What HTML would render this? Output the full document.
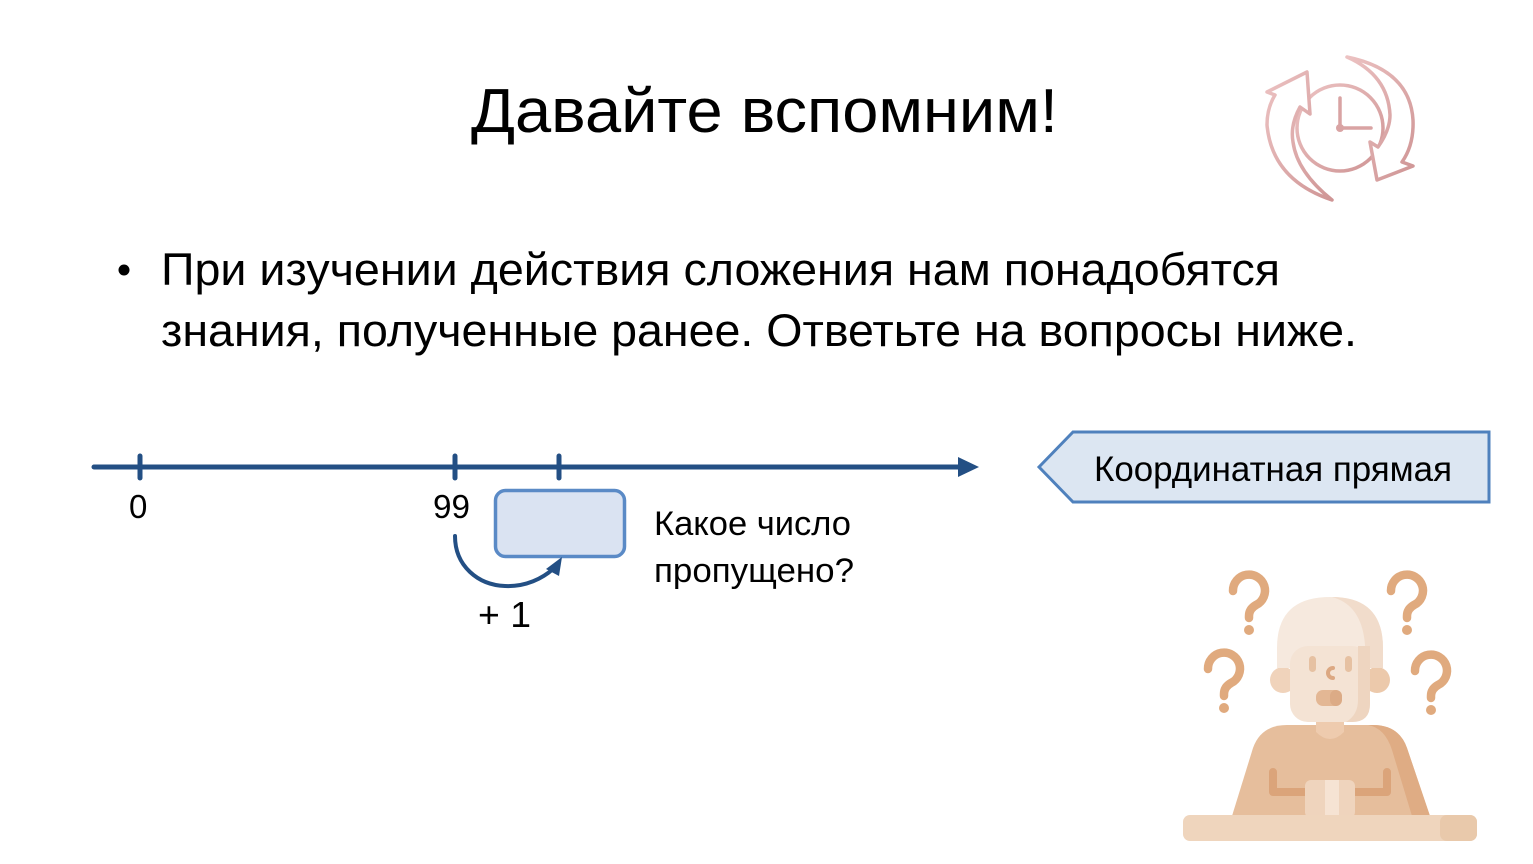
<!DOCTYPE html>
<html>
<head>
<meta charset="utf-8">
<style>
  html,body{margin:0;padding:0;background:#ffffff;}
  body{width:1533px;height:864px;overflow:hidden;}
  svg{display:block;}
  text{font-family:"Liberation Sans","DejaVu Sans",sans-serif;fill:#000;}
</style>
</head>
<body>
<svg width="1533" height="864" viewBox="0 0 1533 864" xmlns="http://www.w3.org/2000/svg">
  <defs>
    <linearGradient id="pg" x1="0" y1="0" x2="1" y2="1">
      <stop offset="0" stop-color="#ecc2c2"/>
      <stop offset="1" stop-color="#cf9595"/>
    </linearGradient>
  </defs>

  <!-- Title -->
  <text x="471" y="132" font-size="62" textLength="587" lengthAdjust="spacingAndGlyphs">Давайте вспомним!</text>

  <!-- Bullet text -->
  <circle cx="124" cy="270" r="5.5" fill="#000"/>
  <text x="161" y="285" font-size="45" textLength="1119" lengthAdjust="spacingAndGlyphs">При изучении действия сложения нам понадобятся</text>
  <text x="161" y="346" font-size="45" textLength="1196" lengthAdjust="spacingAndGlyphs">знания, полученные ранее. Ответьте на вопросы ниже.</text>

  <!-- Clock icon -->
  <g fill="none" stroke="url(#pg)" stroke-width="3.5" stroke-linejoin="round" stroke-linecap="round">
    <circle cx="1340" cy="128" r="43"/>
    <!-- left arrow -->
    <path d="M1332,200 Q1272,180 1267,125 Q1267,108 1275,95 L1267,92 L1307,72 L1310,114 L1300,107 Q1290,125 1293,142 Q1297,172 1332,200 Z" fill="#fff"/>
    <!-- right arrow -->
    <path d="M1347,57 Q1410,70 1413,120 Q1414,145 1402,162 L1413,166 L1377,180 L1370,142 L1378,147 Q1390,130 1390,115 Q1388,75 1347,57 Z" fill="#fff"/>
  </g>
  <g stroke="#d9a3a3" stroke-width="3.5" stroke-linecap="round">
    <line x1="1340" y1="98" x2="1340" y2="128"/>
    <line x1="1340" y1="128" x2="1371" y2="128"/>
  </g>
  <circle cx="1340" cy="128" r="4" fill="#d9a4a4"/>

  <!-- Number line -->
  <g stroke="#234f84" stroke-width="5" stroke-linecap="round">
    <line x1="94" y1="467" x2="962" y2="467"/>
    <line x1="140" y1="456" x2="140" y2="478"/>
    <line x1="455" y1="456" x2="455" y2="478"/>
    <line x1="559" y1="456" x2="559" y2="478"/>
  </g>
  <polygon points="958,457 979,467 958,477" fill="#234f84"/>

  <text x="129" y="518" font-size="33">0</text>
  <text x="433" y="518" font-size="33" textLength="37" lengthAdjust="spacingAndGlyphs">99</text>

  <!-- Empty box -->
  <rect x="495.5" y="490.5" width="129" height="66" rx="10" fill="#dae3f2" stroke="#5a8ac6" stroke-width="3.5"/>

  <!-- Curved arrow -->
  <path d="M455,536 C455,566 478,585 505,586 C526,587 543,578 553,569" fill="none" stroke="#234f84" stroke-width="4" stroke-linecap="round"/>
  <polygon points="562,557 546,569 559,576" fill="#234f84"/>

  <text x="478" y="627" font-size="36" textLength="53" lengthAdjust="spacingAndGlyphs">+ 1</text>

  <text x="654" y="535" font-size="34" textLength="197" lengthAdjust="spacingAndGlyphs">Какое число</text>
  <text x="654" y="582" font-size="34" textLength="200" lengthAdjust="spacingAndGlyphs">пропущено?</text>

  <!-- Label pentagon -->
  <polygon points="1039,467 1073,432 1489,432 1489,502 1073,502" fill="#dce6f2" stroke="#4f81bd" stroke-width="3"/>
  <text x="1094" y="481" font-size="35" textLength="358" lengthAdjust="spacingAndGlyphs">Координатная прямая</text>

  <!-- Person icon -->
  <g>
    <!-- question marks -->
    <g fill="none" stroke="#e0aa7e" stroke-width="8.5" stroke-linecap="round" stroke-linejoin="round">
      <path d="M1233,591 A16,16 0 1 1 1256,605 Q1249,609 1249,616 L1249,618"/>
      <path d="M1391,591 A16,16 0 1 1 1414,605 Q1407,609 1407,616 L1407,618"/>
      <path d="M1208,669 A16,16 0 1 1 1231,683 Q1224,687 1224,694 L1224,696"/>
      <path d="M1415,671 A16,16 0 1 1 1438,685 Q1431,689 1431,696 L1431,698"/>
    </g>
    <g fill="#e0aa7e">
      <circle cx="1249" cy="630" r="5"/>
      <circle cx="1407" cy="630" r="5"/>
      <circle cx="1224" cy="708" r="5"/>
      <circle cx="1431" cy="710" r="5"/>
    </g>

    <!-- body -->
    <path d="M1232,816 L1253,748 Q1261,725 1287,725 L1373,725 Q1399,725 1407,748 L1430,816 Z" fill="#e6be9c"/>
    <path d="M1368,725 L1373,725 Q1399,725 1407,748 L1430,816 L1412,816 L1392,750 Q1385,728 1368,725 Z" fill="#dfac84"/>
    <!-- neck -->
    <path d="M1316,712 L1344,712 L1344,732 Q1330,746 1316,732 Z" fill="#eecbae"/>
    <!-- arms -->
    <g fill="none" stroke="#dba47a" stroke-width="8" stroke-linecap="round" stroke-linejoin="round">
      <polyline points="1273,772 1273,792 1308,792"/>
      <polyline points="1387,772 1387,792 1352,792"/>
    </g>
    <!-- hands -->
    <rect x="1305" y="780" width="50" height="38" rx="6" fill="#efd4bd"/>
    <rect x="1325" y="780" width="14" height="38" fill="#f6e3d3"/>
    <!-- desk -->
    <rect x="1183" y="815" width="294" height="26" rx="7" fill="#efd5bd"/>
    <rect x="1440" y="815" width="37" height="26" rx="7" fill="#e9c9ab"/>

    <!-- ears -->
    <circle cx="1283" cy="680" r="13" fill="#f0d3bb"/>
    <circle cx="1377" cy="680" r="13" fill="#ecc9ab"/>
    <!-- skull -->
    <path d="M1277,668 L1277,648 Q1277,597 1330,597 Q1383,597 1383,648 L1383,668 Z" fill="#f6e9de"/>
    <path d="M1332,597 Q1383,597 1383,648 L1383,668 L1365,668 L1365,645 Q1362,605 1332,597 Z" fill="#f1dccb"/>
    <!-- face -->
    <rect x="1290" y="646" width="80" height="76" rx="18" fill="#f4e3d4"/>
    <path d="M1352,646 L1370,646 L1370,704 Q1370,722 1352,722 L1346,722 Q1358,715 1358,700 L1358,646 Z" fill="#eed5c0"/>
    <!-- eyes -->
    <rect x="1309" y="656" width="7" height="16" rx="3.5" fill="#e6c1a2"/>
    <rect x="1345" y="656" width="7" height="16" rx="3.5" fill="#e6c1a2"/>
    <!-- nose -->
    <path d="M1333,668 A5,5 0 1 0 1333,678" fill="none" stroke="#dca882" stroke-width="4" stroke-linecap="round"/>
    <!-- mouth -->
    <rect x="1316" y="690" width="26" height="16" rx="7" fill="#e3b794"/>
    <rect x="1330" y="690" width="12" height="16" rx="6" fill="#dcab86"/>
  </g>
</svg>
</body>
</html>
